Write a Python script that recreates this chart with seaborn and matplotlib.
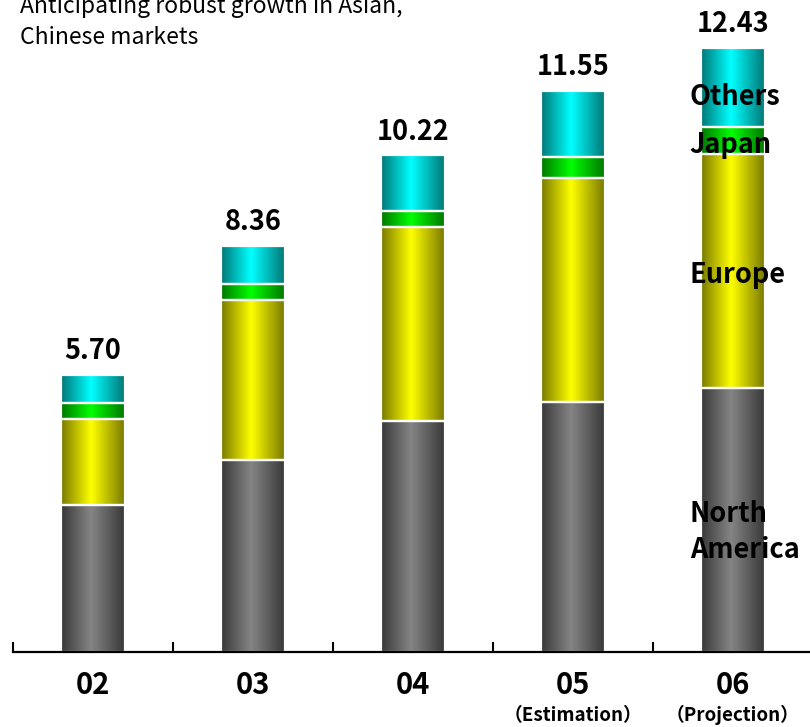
import numpy as np
import pandas as pd
import matplotlib
matplotlib.use("Agg")
import matplotlib.pyplot as plt
from matplotlib.colors import LinearSegmentedColormap
from matplotlib.ticker import FixedLocator
import seaborn as sns

# Sales by region (units as shown), fiscal years 02-06
years = ["02", "03", "04", "05", "06"]
year_notes = ["", "", "", "（Estimation）", "（Projection）"]
north_america = [3.02, 3.95, 4.75, 5.14, 5.43]
europe = [1.77, 3.29, 3.99, 4.61, 4.82]
japan = [0.33, 0.33, 0.33, 0.44, 0.55]
others = [0.58, 0.79, 1.15, 1.36, 1.63]
totals = [5.70, 8.36, 10.22, 11.55, 12.43]
regions = ["North America", "Europe", "Japan", "Others"]
region_labels = ["North\nAmerica", "Europe", "Japan", "Others"]
title_lines = ["Anticipating robust growth in Asian,", "Chinese markets"]

# (dark edge, light centre) shading for each region
shades = {
    "North America": ("#383838", "#858585"),
    "Europe": ("#787800", "#ffff00"),
    "Japan": ("#007600", "#00ff00"),
    "Others": ("#007676", "#00ffff"),
}

sns.set_theme(style="white")
FONT = ["Noto Sans CJK JP", "DejaVu Sans"]
plt.rcParams["font.family"] = FONT
plt.rcParams["text.color"] = "black"
plt.rcParams["xtick.color"] = "black"
plt.rcParams["xtick.labelcolor"] = "black"

fig = plt.figure(figsize=(8.10, 7.27), dpi=100)
ax = fig.add_axes([13 / 810, 75 / 727, 800 / 810, 651 / 727])

series = {"North America": north_america, "Europe": europe,
          "Japan": japan, "Others": others}
bottom = np.zeros(len(years))
for reg in regions:
    vals = np.array(series[reg])
    df = pd.DataFrame({"year": years, "value": vals})
    n_before = len(ax.patches)
    sns.barplot(data=df, x="year", y="value", order=years, ax=ax,
                width=0.40, bottom=bottom, color=shades[reg][1],
                edgecolor="white", linewidth=1.6, errorbar=None,
                saturation=1)
    dark, light = shades[reg]
    cmap = LinearSegmentedColormap.from_list(
        reg, [(0.0, dark), (0.47, light), (1.0, dark)])
    grad = np.linspace(0, 1, 256)[None, :]
    for patch in ax.patches[n_before:]:
        x0, y0 = patch.get_x(), patch.get_y()
        w, h = patch.get_width(), patch.get_height()
        im = ax.imshow(grad, cmap=cmap, aspect="auto",
                       extent=[x0, x0 + w, y0, y0 + h],
                       interpolation="bicubic", zorder=1.5)
        im.set_clip_path(patch)
        patch.set_facecolor("none")
        patch.set_zorder(2)
    bottom = bottom + vals

ax.set_xlim(-0.5, 4.5)
ax.set_ylim(0, 13.4)
ax.set_xlabel("")
ax.set_ylabel("")
ax.set_yticks([])

for s in ["left", "right", "top"]:
    ax.spines[s].set_visible(False)
ax.spines["bottom"].set_color("black")
ax.spines["bottom"].set_linewidth(1.6)

ax.set_xticks(range(len(years)))
ax.set_xticklabels(years, fontsize=21, fontweight="bold", family=FONT,
                   color="black")
ax.tick_params(axis="x", which="major", length=0, pad=13)
ax.xaxis.set_minor_locator(FixedLocator(np.arange(-0.5, 4.6, 1.0)))
ax.tick_params(axis="x", which="minor", direction="in", length=7,
               width=1.5, color="black", bottom=True)

trans = ax.get_xaxis_transform()
for i, note in enumerate(year_notes):
    if note:
        ax.text(i, -0.097, note, transform=trans, ha="center", va="center",
                fontsize=13.5, fontweight="bold", family=FONT, color="black")

for i, tot in enumerate(totals):
    ax.text(i, tot + 0.2, f"{tot:.2f}", ha="center", va="bottom",
            fontsize=19.5, fontweight="bold", family=FONT, color="black")

# Region names beside the last column
label_y = {"Others": 11.42, "Japan": 10.43, "Europe": 7.77,
           "North America": 2.47}
for reg, lab in zip(regions, region_labels):
    ax.text(3.73, label_y[reg], lab, ha="left", va="center",
            fontsize=19.5, fontweight="bold", family=FONT, color="black",
            linespacing=1.4, zorder=5)

fig.text(20 / 810, 1 - 7 / 727, title_lines[0], ha="left", va="center",
         fontsize=16.5, family=FONT, color="black")
fig.text(20 / 810, 1 - 38 / 727, title_lines[1], ha="left", va="center",
         fontsize=16.5, family=FONT, color="black")

fig.savefig("out.png", dpi=100)
